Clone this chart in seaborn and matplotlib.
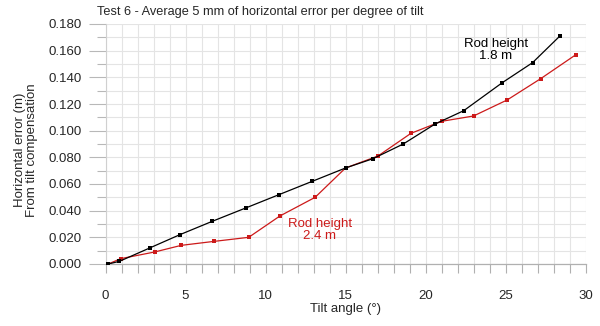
import matplotlib
matplotlib.use("Agg")
import matplotlib.pyplot as plt
import seaborn as sns
import pandas as pd
import numpy as np

sns.set_style("white")
plt.rcParams['font.family'] = ['Liberation Sans', 'DejaVu Sans']

# Data
tilt_18 = [0.17, 0.87, 2.76, 4.65, 6.67, 8.76, 10.84, 12.92, 15.0, 16.72, 18.61, 20.6, 22.39, 24.8, 26.69, 28.4]
err_18 = [0.000, 0.002, 0.012, 0.022, 0.032, 0.042, 0.052, 0.062, 0.072, 0.079, 0.090, 0.105, 0.115, 0.136, 0.151, 0.171]
tilt_24 = [0.17, 0.95, 3.07, 4.74, 6.81, 8.95, 10.9, 13.1, 15.0, 17.03, 19.09, 21.0, 23.0, 25.1, 27.2, 29.4]
err_24 = [0.000, 0.004, 0.009, 0.014, 0.017, 0.020, 0.036, 0.050, 0.072, 0.081, 0.098, 0.107, 0.111, 0.123, 0.139, 0.157]

df = pd.concat([
    pd.DataFrame({"tilt": tilt_18, "err": err_18, "rod": "1.8 m"}),
    pd.DataFrame({"tilt": tilt_24, "err": err_24, "rod": "2.4 m"}),
])

red = "#cc1a1a"
fs = 9.5
fig = plt.figure(figsize=(6.0, 3.26), dpi=100)
ax = fig.add_axes([105.5/600, 1-264/326, (585.5-105.5)/600, (264-24)/326])

sns.lineplot(data=df[df.rod == "2.4 m"], x="tilt", y="err", color=red, marker="s",
             markersize=3.2, markeredgewidth=0, linewidth=0.9, ax=ax, zorder=3)
sns.lineplot(data=df[df.rod == "1.8 m"], x="tilt", y="err", color="black", marker="s",
             markersize=3.2, markeredgewidth=0, linewidth=0.9, ax=ax, zorder=4)

ax.set_xlim(0, 30)
ax.set_ylim(0, 0.18)
ax.set_xticks(np.arange(0, 31, 5))
ax.set_xticks(np.arange(0, 31, 1), minor=True)
ax.set_yticks(np.arange(0, 0.181, 0.02))
ax.set_yticks(np.arange(0, 0.181, 0.01), minor=True)
ax.set_yticklabels([f"{v:.3f}" for v in np.arange(0, 0.181, 0.02)])
ax.grid(True, which="both", color="#e4e4e4", linewidth=0.8)
ax.set_axisbelow(True)

for s in ["top", "right"]:
    ax.spines[s].set_visible(False)
ax.spines["left"].set_color("#d0d0d0")
ax.spines["bottom"].set_color("#b0b0b0")
ax.spines["bottom"].set_linewidth(0.9)

ax.tick_params(axis="x", which="both", direction="out", length=6.5, color="#b0b0b0",
               width=0.8, labelsize=fs, pad=12, bottom=True)
ax.tick_params(axis="y", which="major", direction="out", length=12, color="#b8b8b8",
               width=0.8, labelsize=fs, pad=5, left=True)
ax.tick_params(axis="y", which="minor", direction="out", length=6.5, color="#b8b8b8",
               width=0.8, left=True)

ax.set_xlabel("Tilt angle (°)", fontsize=fs, labelpad=1)
ax.set_ylabel("Horizontal error (m)\nFrom tilt compensation", fontsize=fs,
              linespacing=1.0)
ax.yaxis.set_label_coords(-0.141, 0.475)

fig.text(97/600, 1-12/326, "Test 6 - Average 5 mm of horizontal error per degree of tilt",
         fontsize=9.2, ha="left", va="center")

ax.text(24.4, 0.1605, "Rod height\n1.8 m", color="black", fontsize=fs, ha="center",
        va="center", linespacing=1.1)
ax.text(13.4, 0.0255, "Rod height\n2.4 m", color=red, fontsize=fs, ha="center",
        va="center", linespacing=1.1)

fig.savefig("out.png", dpi=100)
